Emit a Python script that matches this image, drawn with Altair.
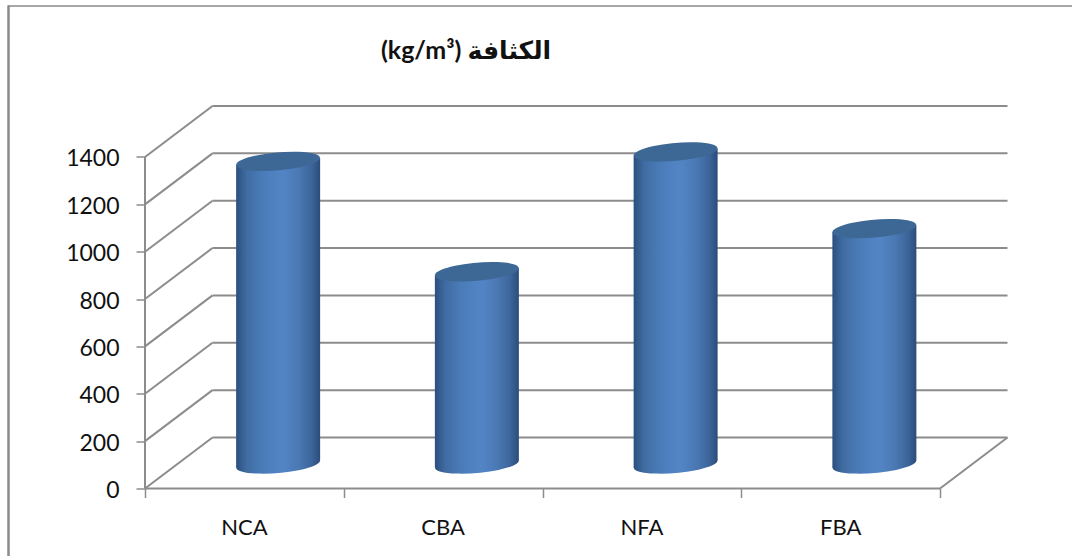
import altair as alt
import pandas as pd

# Chart values
categories = ["NCA", "CBA", "NFA", "FBA"]
densities = [1278, 812, 1318, 994]
tick_values = [0, 200, 400, 600, 800, 1000, 1200, 1400]
title_text = "(kg/m³) الكثافة"

# Oblique projection of the chart box, in data units
PX_PER_CAT = 198.75
PX_PER_VAL = 0.2368
DEPTH_X = 67.5 / PX_PER_CAT
DEPTH_Y = 51 / PX_PER_VAL
PLOT_W, PLOT_H = 863, 384
CYL_W = 84 / PX_PER_CAT
TILT = 3.4 / PX_PER_VAL

x_scale = alt.Scale(domain=[0, PLOT_W / PX_PER_CAT], range=[0, PLOT_W], nice=False, zero=False)
y_scale = alt.Scale(domain=[0, PLOT_H / PX_PER_VAL], range=[PLOT_H, 0], nice=False, zero=False)
X = lambda f, **k: alt.X(f, type="quantitative", scale=x_scale, **k)
Y = lambda f, **k: alt.Y(f, type="quantitative", scale=y_scale, **k)

GRID = "#8c8c8c"
side_fill = alt.Gradient(
    gradient="linear", x1=0, x2=1, y1=0, y2=0,
    stops=[
        alt.GradientStop(color="#2b4f7f", offset=0),
        alt.GradientStop(color="#3f6ba0", offset=0.12),
        alt.GradientStop(color="#4a7bb8", offset=0.3),
        alt.GradientStop(color="#5385c6", offset=0.55),
        alt.GradientStop(color="#4a78b3", offset=0.75),
        alt.GradientStop(color="#3c659a", offset=0.9),
        alt.GradientStop(color="#2b4c7a", offset=1),
    ],
)
ELLIPSE = "M -0.996 0.087 A 1 0.21 -5 1 1 0.996 -0.087 A 1 0.21 -5 1 1 -0.996 0.087 Z"
ELLIPSE_SIZE = 84 ** 2

# Box lines: side wall diagonals, back wall lines, floor edges
lines = []
for v in tick_values:
    lines.append(dict(x=0, x2=DEPTH_X, y=v, y2=v + DEPTH_Y))
    lines.append(dict(x=DEPTH_X, x2=4 + DEPTH_X, y=v + DEPTH_Y, y2=v + DEPTH_Y))
lines.append(dict(x=0, x2=4, y=0, y2=0))
lines.append(dict(x=4, x2=4 + DEPTH_X, y=0, y2=DEPTH_Y))
lines.append(dict(x=0, x2=0, y=0, y2=1400))
box = alt.Chart(pd.DataFrame(lines)).mark_rule(color=GRID, strokeWidth=2, clip=False).encode(
    x=X("x"), x2="x2", y=Y("y"), y2="y2"
)

# Axes carry the tick marks and the value labels
axes = alt.Chart(pd.DataFrame({"x": [0, 1, 2, 3, 4], "y": [0, 0, 0, 0, 0]})).mark_point(opacity=0).encode(
    x=X("x", axis=alt.Axis(values=[0, 1, 2, 3, 4], labels=False, domain=False, grid=False, title=None,
                           tickColor=GRID, tickSize=9, tickWidth=1.5)),
    y=Y("y", axis=alt.Axis(values=tick_values, domain=False, grid=False, title=None, format="d",
                           tickColor=GRID, tickSize=9, tickWidth=1.5, labelPadding=17, labelOffset=2,
                           labelFont="Lato", labelFontSize=23, labelColor="#111111")),
)

# Cylinder geometry built from the density values
centers = [i + 0.5 + DEPTH_X / 2 for i in range(len(categories))]
base = DEPTH_Y / 2 - 1 / PX_PER_VAL
side_rows = []
for cat, c, v in zip(categories, centers, densities):
    side_rows.append(dict(cat=cat, x=c - CYL_W / 2, top=base + v - TILT, bottom=base - TILT))
    side_rows.append(dict(cat=cat, x=c + CYL_W / 2, top=base + v + TILT, bottom=base + TILT))
sides_df = pd.DataFrame(side_rows)
ends_df = pd.DataFrame({"cat": categories, "x": centers,
                        "bottom": [base] * 4, "top": [base + v for v in densities]})

bottoms = alt.Chart(ends_df).mark_point(
    shape=ELLIPSE, size=ELLIPSE_SIZE, filled=True, fill=side_fill, opacity=1, strokeWidth=0
).encode(x=X("x"), y=Y("bottom"))

sides = alt.Chart(sides_df).mark_area(fill=side_fill, opacity=1).encode(
    x=X("x"), y=Y("top"), y2="bottom", detail="cat:N"
)

tops = alt.Chart(ends_df).mark_point(
    shape=ELLIPSE, size=ELLIPSE_SIZE, filled=True, fill="#3d6795", opacity=1, strokeWidth=0
).encode(x=X("x"), y=Y("top"))

cat_labels = alt.Chart(pd.DataFrame({"cat": categories, "x": [i + 0.5 for i in range(4)], "y": [0] * 4})).mark_text(
    font="Lato", fontSize=22, color="#111111", dy=39
).encode(x=X("x"), y=Y("y"), text="cat:N")

heading = alt.Chart(pd.DataFrame({"label": [title_text]})).mark_text(
    font="Lato, DejaVu Sans", fontSize=25, fontWeight="bold", color="#111111", align="center"
).encode(x=alt.value(321), y=alt.value(-54), text="label:N")

# Outer frame: the top and left edges of the chart border
frame_top = alt.Chart(pd.DataFrame({"a": [0]})).mark_rule(color="#8a8a8a", strokeWidth=1.5).encode(
    x=alt.value(-137), x2=alt.value(PLOT_W + 64), y=alt.value(-98.5)
)
frame_left = alt.Chart(pd.DataFrame({"a": [0]})).mark_rule(color="#8a8a8a", strokeWidth=2.5).encode(
    x=alt.value(-136.5), y=alt.value(-99), y2=alt.value(PLOT_H + 70)
)

chart = alt.layer(axes, frame_top, frame_left, box, bottoms, sides, tops, cat_labels, heading).properties(
    width=PLOT_W, height=PLOT_H,
    autosize=alt.AutoSizeParams(type="none"),
    padding={"left": 145, "top": 104.5, "right": 64, "bottom": 67.5},
    background="white",
).configure_view(stroke=None)

chart.save("out.html", embed_options={"renderer": "svg", "actions": False})
